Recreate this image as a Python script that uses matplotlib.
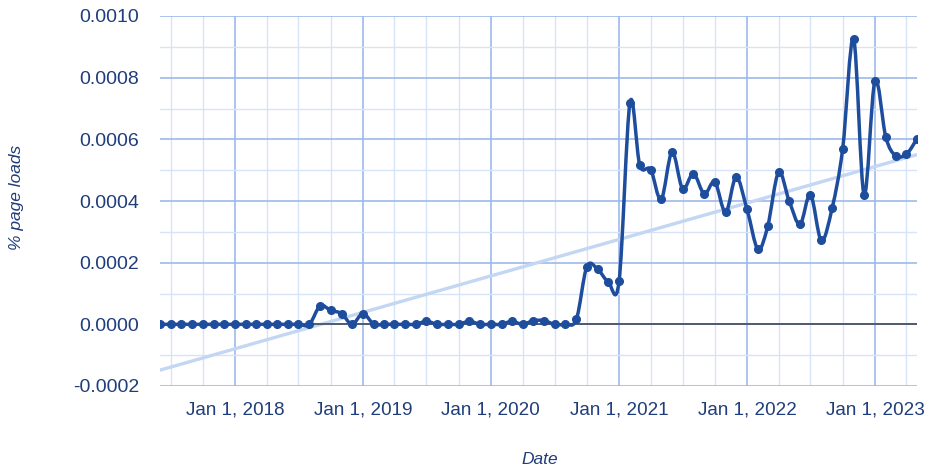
import numpy as np
import matplotlib
matplotlib.use('Agg')
import matplotlib.pyplot as plt
import matplotlib.dates as mdates
from matplotlib.path import Path
from matplotlib.patches import PathPatch
from matplotlib.ticker import MultipleLocator, FuncFormatter

# monthly share of page loads, Jun 2017 - May 2023
months = np.arange('2017-06', '2023-06', dtype='datetime64[M]')
page_loads = [
    0, 0, 0, 0, 0, 0, 0, 0, 0, 0, 0, 0, 0, 0, 0,
    0.00006, 0.000045, 0.000035, 0, 0.000035,
    0, 0, 0, 0, 0, 0.00001, 0, 0, 0, 0.00001,
    0, 0, 0, 0.00001, 0, 0.000012, 0.000012, 0, 0, 0.000016,
    0.000187, 0.000178, 0.000138, 0.000141, 0.000719, 0.000516,
    0.000502, 0.000405, 0.000559, 0.00044, 0.000489, 0.000423,
    0.000462, 0.000363, 0.000478, 0.000373, 0.000244, 0.000318,
    0.000493, 0.000401, 0.000324, 0.000421, 0.000272, 0.000378,
    0.00057, 0.000926, 0.000421, 0.00079, 0.000607, 0.000547,
    0.000552, 0.000602,
]

LINE = '#1d4d9c'
TREND = '#c3d6f3'
MAJOR = '#9db9ea'
MINOR = '#d7e3f7'
TEXT = '#1f3d7a'
FONT = 'Liberation Sans'


def smooth_path(x, y):
    # cubic bezier through every point, control points from the neighbours
    n = len(x)
    verts = [(x[0], y[0])]
    codes = [Path.MOVETO]
    for i in range(n - 1):
        a = max(i - 1, 0)
        b = min(i + 2, n - 1)
        c1 = (x[i] + (x[i + 1] - x[a]) / 6, y[i] + (y[i + 1] - y[a]) / 6)
        c2 = (x[i + 1] - (x[b] - x[i]) / 6, y[i + 1] - (y[b] - y[i]) / 6)
        verts += [c1, c2, (x[i + 1], y[i + 1])]
        codes += [Path.CURVE4] * 3
    return Path(verts, codes)


xs = mdates.date2num(months.astype('datetime64[D]'))
ys = np.array(page_loads)

fig = plt.figure(figsize=(9.27, 4.72), dpi=100)
ax = fig.add_axes([160 / 927, 1 - 386 / 472, (917 - 160) / 927, (386 - 16) / 472])

ax.set_xlim(xs[0], xs[-1])
ax.set_ylim(-0.0002, 0.0010)

# grid
ax.xaxis.set_major_locator(mdates.YearLocator())
ax.xaxis.set_minor_locator(mdates.MonthLocator(bymonth=[1, 4, 7, 10]))
ax.yaxis.set_major_locator(MultipleLocator(0.0002))
ax.yaxis.set_minor_locator(MultipleLocator(0.0001))
ax.grid(which='major', color=MAJOR, lw=1.2, zorder=0)
ax.grid(which='minor', color=MINOR, lw=1.0, zorder=0)
ax.set_axisbelow(True)
for s in ax.spines.values():
    s.set_visible(False)
ax.tick_params(which='both', length=0)
ax.tick_params(axis='y', pad=15, labelsize=14, labelcolor=TEXT)
ax.tick_params(axis='x', pad=11, labelsize=13.6, labelcolor=TEXT)
ax.yaxis.set_major_formatter(FuncFormatter(lambda v, _: f'{v:.4f}'))


def date_label(v, _):
    d = mdates.num2date(v)
    return f'{d:%b} {d.day}, {d.year}'


ax.xaxis.set_major_formatter(FuncFormatter(date_label))
for lab in ax.get_xticklabels() + ax.get_yticklabels():
    lab.set_fontfamily(FONT)

# linear trend
k, b = np.polyfit(xs, ys, 1)
ax.plot(xs[[0, -1]], k * xs[[0, -1]] + b, color=TREND, lw=2.4, zorder=2)

ax.axhline(0, color='#4a5364', lw=1.3, zorder=3)

ax.add_patch(PathPatch(smooth_path(xs, ys), fill=False, edgecolor=LINE,
                       lw=2.5, zorder=4, capstyle='round', joinstyle='round'))
ax.plot(xs, ys, 'o', ms=5.5, color=LINE, zorder=5)

fig.text(540 / 927, 1 - 459 / 472, 'Date', ha='center', va='center',
         fontsize=12.5, style='italic', color=TEXT, family=FONT)
fig.text(17 / 927, 1 - 197 / 472, '% page loads', ha='center', va='center',
         rotation=90, fontsize=12.5, style='italic', color=TEXT, family=FONT)

fig.savefig('out.png', dpi=100)
